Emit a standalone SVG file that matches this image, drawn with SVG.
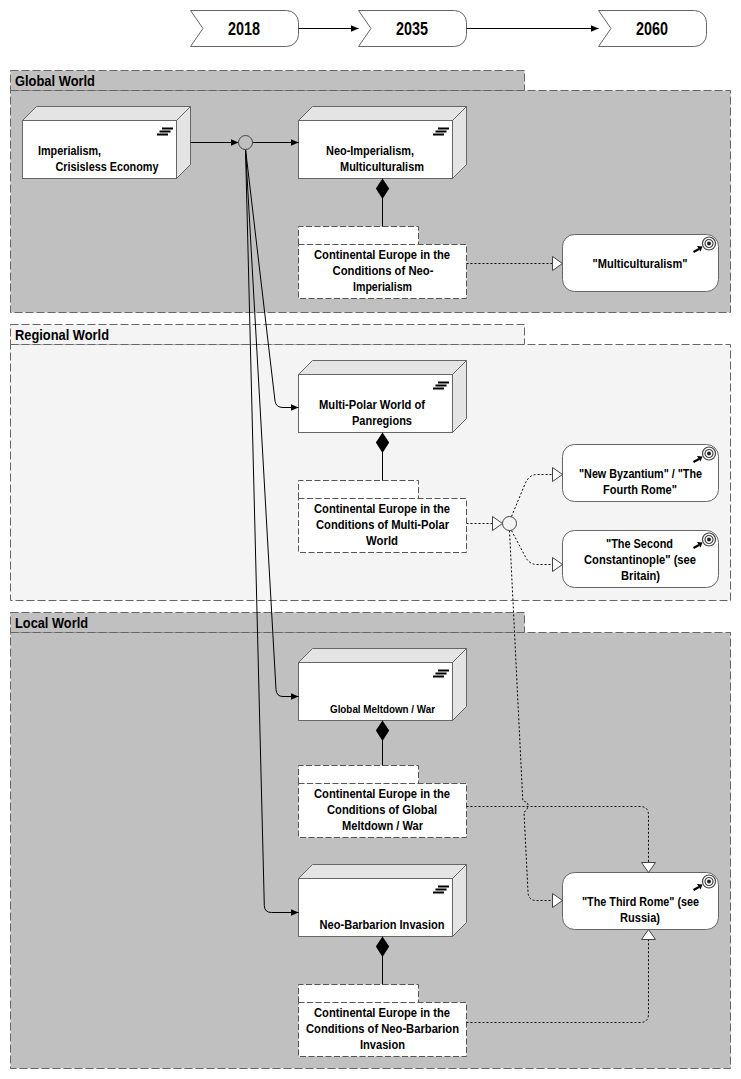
<svg xmlns="http://www.w3.org/2000/svg" xmlns:xlink="http://www.w3.org/1999/xlink" width="741" height="1079" viewBox="0 0 741 1079">
<style>
text{font-family:"Liberation Sans",Arial,sans-serif;font-weight:bold;font-size:12.5px;fill:#000}
.m{text-anchor:middle}
.t{font-size:15px}
.y{font-size:18px;text-anchor:middle}
.s{font-size:11.5px}
.grp{stroke:#666;stroke-width:1;stroke-dasharray:8 3}
.dk{fill:#c0c0c0}
.lt{fill:#f4f4f4}
.face{fill:#fff;stroke:#666;stroke-width:1}
.side{fill:#e4e4e4;stroke:#666;stroke-width:1}
.dash{fill:#fff;stroke:#555;stroke-width:1;stroke-dasharray:6 2.5}
.goal{fill:#fff;stroke:#666;stroke-width:1}
.c{fill:none;stroke:#000;stroke-width:1}
.a{marker-end:url(#arrow)}
.r{fill:none;stroke:#000;stroke-width:1;stroke-dasharray:2 2;marker-end:url(#hollow)}
.comp{fill:none;stroke:#000;stroke-width:1;marker-start:url(#diamond)}
.jn{stroke:#444;stroke-width:1}
</style>
<defs>
<marker id="arrow" markerUnits="userSpaceOnUse" markerWidth="8" markerHeight="8" viewBox="0 0 8 8" refX="8" refY="4" orient="auto"><path d="M0,.5L8,4L0,7.5z" fill="#000"/></marker>
<marker id="hollow" markerUnits="userSpaceOnUse" markerWidth="11" markerHeight="15" viewBox="0 0 11 15" refX="10.5" refY="7.5" orient="auto"><path d="M.5,.5L10.5,7.5L.5,14.5z" fill="#fff" stroke="#444"/></marker>
<marker id="diamond" markerUnits="userSpaceOnUse" markerWidth="21" markerHeight="14" viewBox="0 0 21 14" refX="0" refY="7" orient="auto"><path d="M0,7L10,.3L20.500,7L10,13.700z" fill="#000"/></marker>
<g id="bars"><path d="M5,.5H16M2.500,3.500H13.500M0,6.500H11" fill="none" stroke="#000" stroke-width="1.800"/></g>
<g id="target"><circle cx="0" cy="0" r="6.500" fill="none" stroke="#444" stroke-width="1.200"/><circle cx="0" cy="0" r="4" fill="none" stroke="#444" stroke-width="1.200"/><circle cx="0" cy="0" r="2" fill="#222"/><path d="M-15.500,8.500L-10,5.500" stroke="#000" stroke-width="2" fill="none"/><path d="M-12,2.500L-6.500,3L-8.500,8z" fill="#000"/></g>
<g id="cube"><path class="side" d="M0,14L14,0H168V58L154,72V14z"/><path class="side" d="M154,14L168,0V58L154,72z"/><rect class="face" x="0" y="14" width="154" height="58"/></g>
<g id="artifact"><path class="dash" d="M0,18V0H120V18"/><rect class="dash" x="0" y="18" width="168" height="54"/></g>
</defs>

<g id="timeline">
<g id="t2018"><path class="face" d="M190.500,10.500H286.500A12,12 0 0 1 298.500,22.500V34.500A12,12 0 0 1 286.500,46.500H190.500L203,28.500z"/><text class="y" x="244" y="35" textLength="32" lengthAdjust="spacingAndGlyphs">2018</text></g>
<g id="t2035"><path class="face" d="M358.500,10.500H454.500A12,12 0 0 1 466.500,22.500V34.500A12,12 0 0 1 454.500,46.500H358.500L371,28.500z"/><text class="y" x="412" y="35" textLength="32" lengthAdjust="spacingAndGlyphs">2035</text></g>
<g id="t2060"><path class="face" d="M598.500,10.500H694.500A12,12 0 0 1 706.500,22.500V34.500A12,12 0 0 1 694.500,46.500H598.500L611,28.500z"/><text class="y" x="652" y="35" textLength="32" lengthAdjust="spacingAndGlyphs">2060</text></g>
</g>

<g id="global-world">
<rect class="grp dk" x="10.500" y="70.500" width="514" height="20"/>
<rect class="grp dk" x="10.500" y="90.500" width="720" height="222"/>
<text class="t" x="15" y="86" textLength="80" lengthAdjust="spacingAndGlyphs">Global World</text>
</g>
<g id="regional-world">
<rect class="grp lt" x="10.500" y="324.500" width="514" height="20"/>
<rect class="grp lt" x="10.500" y="344.500" width="720" height="256"/>
<text class="t" x="15" y="340" textLength="94" lengthAdjust="spacingAndGlyphs">Regional World</text>
</g>
<g id="local-world">
<rect class="grp dk" x="10.500" y="612.500" width="514" height="20"/>
<rect class="grp dk" x="10.500" y="632.500" width="720" height="436"/>
<text class="t" x="15" y="628" textLength="73" lengthAdjust="spacingAndGlyphs">Local World</text>
</g>

<g id="n-imperialism">
<use href="#cube" x="22.500" y="106.500"/><use href="#bars" x="157" y="128"/>
<text x="38" y="155" textLength="63" lengthAdjust="spacingAndGlyphs">Imperialism,</text>
<text x="55.500" y="171" textLength="103" lengthAdjust="spacingAndGlyphs">Crisisless Economy</text>
</g>
<g id="n-neo-imperialism">
<use href="#cube" x="298.500" y="106.500"/><use href="#bars" x="433" y="128"/>
<text x="326" y="155" textLength="88" lengthAdjust="spacingAndGlyphs">Neo-Imperialism,</text>
<text x="340" y="171" textLength="84" lengthAdjust="spacingAndGlyphs">Multiculturalism</text>
</g>
<g id="n-multipolar">
<use href="#cube" x="298.500" y="360.500"/><use href="#bars" x="433" y="382"/>
<text class="m" x="372" y="409" textLength="106" lengthAdjust="spacingAndGlyphs">Multi-Polar World of</text>
<text class="m" x="382" y="425" textLength="60" lengthAdjust="spacingAndGlyphs">Panregions</text>
</g>
<g id="n-meltdown">
<use href="#cube" x="298.500" y="648.500"/><use href="#bars" x="433" y="670"/>
<text class="m s" x="382.500" y="713" textLength="105" lengthAdjust="spacingAndGlyphs">Global Meltdown / War</text>
</g>
<g id="n-barbarian">
<use href="#cube" x="298.500" y="864.500"/><use href="#bars" x="433" y="886"/>
<text class="m" x="382" y="929" textLength="125" lengthAdjust="spacingAndGlyphs">Neo-Barbarion Invasion</text>
</g>

<g id="a-neo-imperialism">
<use href="#artifact" x="298.500" y="226.500"/>
<text class="m" x="382" y="259" textLength="136" lengthAdjust="spacingAndGlyphs">Continental Europe in the</text>
<text class="m" x="383" y="275" textLength="101" lengthAdjust="spacingAndGlyphs">Conditions of Neo-</text>
<text class="m" x="382.500" y="291" textLength="59" lengthAdjust="spacingAndGlyphs">Imperialism</text>
</g>
<g id="a-multipolar">
<use href="#artifact" x="298.500" y="480.500"/>
<text class="m" x="382" y="513" textLength="136" lengthAdjust="spacingAndGlyphs">Continental Europe in the</text>
<text class="m" x="382.500" y="529" textLength="133" lengthAdjust="spacingAndGlyphs">Conditions of Multi-Polar</text>
<text class="m" x="382" y="545" textLength="32" lengthAdjust="spacingAndGlyphs">World</text>
</g>
<g id="a-meltdown">
<use href="#artifact" x="298.500" y="765.500"/>
<text class="m" x="382" y="798" textLength="136" lengthAdjust="spacingAndGlyphs">Continental Europe in the</text>
<text class="m" x="382" y="814" textLength="110" lengthAdjust="spacingAndGlyphs">Conditions of Global</text>
<text class="m" x="382.500" y="830" textLength="81" lengthAdjust="spacingAndGlyphs">Meltdown / War</text>
</g>
<g id="a-barbarian">
<use href="#artifact" x="298.500" y="984.500"/>
<text class="m" x="382" y="1017" textLength="136" lengthAdjust="spacingAndGlyphs">Continental Europe in the</text>
<text class="m" x="382.500" y="1033" textLength="153" lengthAdjust="spacingAndGlyphs">Conditions of Neo-Barbarion</text>
<text class="m" x="382.500" y="1049" textLength="45" lengthAdjust="spacingAndGlyphs">Invasion</text>
</g>

<g id="g-multiculturalism">
<rect class="goal" x="562.500" y="234.500" width="156" height="57" rx="12"/><use href="#target" x="709" y="243.500"/>
<text class="m" x="640" y="268" textLength="95" lengthAdjust="spacingAndGlyphs">"Multiculturalism"</text>
</g>
<g id="g-byzantium">
<rect class="goal" x="562.500" y="444.500" width="156" height="57" rx="12"/><use href="#target" x="709" y="453.500"/>
<text class="m" x="640.500" y="478" textLength="123" lengthAdjust="spacingAndGlyphs">"New Byzantium" / "The</text>
<text class="m" x="640" y="494" textLength="74" lengthAdjust="spacingAndGlyphs">Fourth Rome"</text>
</g>
<g id="g-constantinople">
<rect class="goal" x="562.500" y="530.500" width="156" height="57" rx="12"/><use href="#target" x="709" y="539.500"/>
<text class="m" x="639.500" y="548" textLength="67" lengthAdjust="spacingAndGlyphs">"The Second</text>
<text class="m" x="640" y="564" textLength="112" lengthAdjust="spacingAndGlyphs">Constantinople" (see</text>
<text class="m" x="640.500" y="580" textLength="39" lengthAdjust="spacingAndGlyphs">Britain)</text>
</g>
<g id="g-third-rome">
<rect class="goal" x="562.500" y="872.500" width="156" height="57" rx="12"/><use href="#target" x="709" y="881.500"/>
<text class="m" x="640.500" y="906" textLength="117" lengthAdjust="spacingAndGlyphs">"The Third Rome" (see</text>
<text class="m" x="640" y="922" textLength="40" lengthAdjust="spacingAndGlyphs">Russia)</text>
</g>

<g id="connectors">
<path class="c a" d="M298.500,28.500H358.500"/>
<path class="c a" d="M466.500,28.500H598.500"/>
<path class="c a" d="M190.500,142.500H238.500"/>
<path class="c a" d="M252.500,142.500H298.500"/>
<path class="c a" d="M245.500,149L275,401Q276,407.500 283,407.500H298.500"/>
<path class="c a" d="M245.500,149L276,689.500Q276.500,696.500 283,696.500H298.500"/>
<path class="c a" d="M245.500,149L264.300,905.500Q264.500,912.500 271.500,912.500H298.500"/>
<path class="comp" d="M382.500,178.500V226.500"/>
<path class="comp" d="M382.500,432.500V480.500"/>
<path class="comp" d="M382.500,720.500V765.500"/>
<path class="comp" d="M382.500,936.500V984.500"/>
<path class="r" d="M466.500,263.500H562.500"/>
<path class="r" d="M466.500,523.500H502.500"/>
<path class="r" d="M511.500,516.500L525,484Q529,474.500 537,474.500H562.500"/>
<path class="r" d="M511.500,530.500L525,556Q529,564.500 537,564.500H562.500"/>
<path class="r" d="M509.500,530.500L522.800,801Q529,802 527.800,806.500Q527,811 524,812L528,892Q528.500,900.500 536,900.500H562.500"/>
<path class="r" d="M466.500,806.500H640Q648.500,806.500 648.500,815V872.500"/>
<path class="r" d="M466.500,1022.500H640Q648.500,1022.500 648.500,1014V929.500"/>
</g>

<g id="j1"><circle class="jn" cx="245.500" cy="142.500" r="7" fill="#c0c0c0"/></g>
<g id="j2"><circle class="jn" cx="509.500" cy="523.500" r="7" fill="#f4f4f4"/></g>
</svg>
